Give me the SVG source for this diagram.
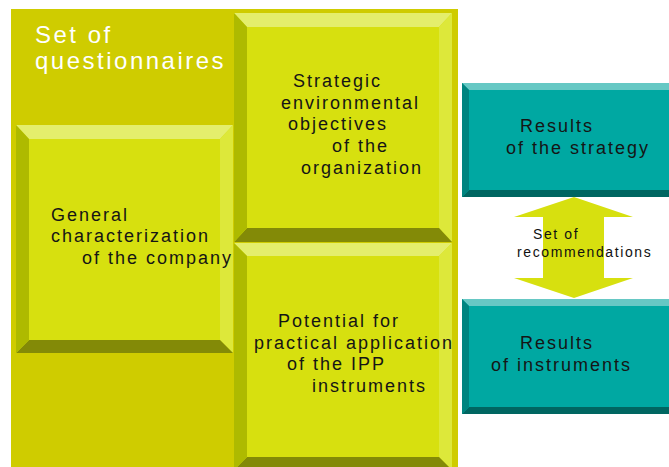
<svg xmlns="http://www.w3.org/2000/svg" width="669" height="467" viewBox="0 0 669 467">
<style>
.t{font-family:"Liberation Sans",Arial,sans-serif;font-size:18px;letter-spacing:2px;fill:#151515}
.w{font-family:"Liberation Sans",Arial,sans-serif;font-size:24px;letter-spacing:2.5px;fill:#ffffff}
.s{font-family:"Liberation Sans",Arial,sans-serif;font-size:14px;letter-spacing:1.6px;fill:#111111}
.yf{fill:#D7E00F}.yt{fill:#E4EE6C}.yr{fill:#DDE83A}.yl{fill:#AEBA00}.yb{fill:#838A07}
.tf{fill:#00A8A2}.tt{fill:#66C8C4}.tl{fill:#00847F}.tb{fill:#006661}
</style>
<rect width="669" height="467" fill="#ffffff"/>
<g id="questionnaires">
<rect x="11" y="9" width="447" height="458" fill="#CFCC00"/>
<text class="w" x="35" y="43">Set of</text>
<text class="w" x="35" y="69">questionnaires</text>
</g>
<g id="general">
<rect class="yf" x="16" y="125" width="217" height="228"/>
<polygon class="yt" points="16,125 233,125 220,139 29,139"/>
<polygon class="yr" points="233,125 233,353 220,340 220,139"/>
<polygon class="yb" points="16,353 233,353 220,340 29,340"/>
<polygon class="yl" points="16,125 29,139 29,340 16,353"/>
<text class="t" x="51" y="221">General</text>
<text class="t" x="51" y="242">characterization</text>
<text class="t" x="82" y="264">of the company</text>
</g>
<g id="strategic">
<rect class="yf" x="234" y="13" width="218" height="229"/>
<polygon class="yt" points="234,13 452,13 439,27 247,27"/>
<polygon class="yr" points="452,13 452,242 439,228 439,27"/>
<polygon class="yb" points="234,242 452,242 439,228 247,228"/>
<polygon class="yl" points="234,13 247,27 247,228 234,242"/>
<text class="t" x="293" y="87">Strategic</text>
<text class="t" x="281" y="109">environmental</text>
<text class="t" x="288" y="130">objectives</text>
<text class="t" x="332" y="152">of the</text>
<text class="t" x="301" y="174">organization</text>
</g>
<g id="potential">
<rect class="yf" x="234" y="243" width="218" height="227"/>
<polygon class="yt" points="234,243 452,243 439,256 247,256"/>
<polygon class="yr" points="452,243 452,470 439,457 439,256"/>
<polygon class="yb" points="234,470 452,470 439,457 247,457"/>
<polygon class="yl" points="234,243 247,256 247,457 234,470"/>
<text class="t" x="278" y="327">Potential for</text>
<text class="t" x="254" y="349">practical application</text>
<text class="t" x="287" y="370">of the IPP</text>
<text class="t" x="312" y="392">instruments</text>
</g>
<g id="results-strategy">
<rect class="tf" x="462" y="83" width="210" height="114"/>
<polygon class="tt" points="462,83 672,83 672,90 469,90"/>
<polygon class="tb" points="462,197 672,197 672,190 469,190"/>
<polygon class="tl" points="462,83 469,90 469,190 462,197"/>
<text class="t" x="520" y="132">Results</text>
<text class="t" x="506" y="154">of the strategy</text>
</g>
<g id="results-instruments">
<rect class="tf" x="462" y="299" width="210" height="115"/>
<polygon class="tt" points="462,299 672,299 672,306 469,306"/>
<polygon class="tb" points="462,414 672,414 672,407 469,407"/>
<polygon class="tl" points="462,299 469,306 469,407 462,414"/>
<text class="t" x="520" y="349">Results</text>
<text class="t" x="491" y="371">of instruments</text>
</g>
<g id="connectors">
<polygon fill="#D7E00F" points="574,197 633,217 604,217 604,278 633,278 574,298 514,278 543,278 543,217 514,217"/>
<text class="s" x="533" y="239">Set of</text>
<text class="s" x="517" y="257">recommendations</text>
</g>
</svg>
